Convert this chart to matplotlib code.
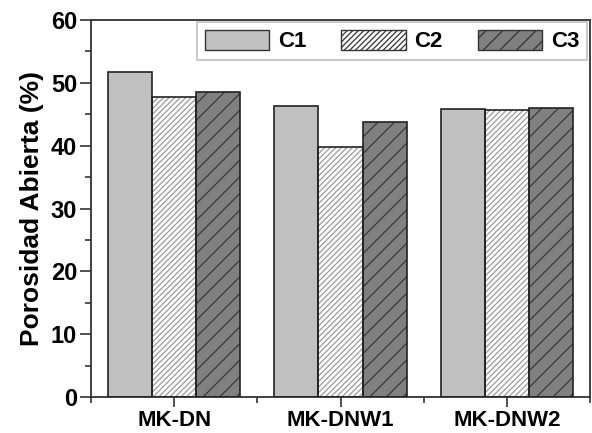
import matplotlib.pyplot as plt
import numpy as np
from matplotlib.ticker import MultipleLocator, FixedLocator

plt.rcParams['font.family'] = ['Liberation Sans', 'DejaVu Sans']
plt.rcParams['font.weight'] = 'bold'
plt.rcParams['hatch.linewidth'] = 0.9

groups = ['MK-DN', 'MK-DNW1', 'MK-DNW2']
series = ['C1', 'C2', 'C3']
c1 = [51.8, 46.3, 45.9]
c2 = [47.7, 39.8, 45.6]
c3 = [48.6, 43.8, 46.0]

fig = plt.figure(figsize=(5.92, 4.33), dpi=100)
ax = fig.add_axes([0.1537, 0.0831, 0.843, 0.8707])

x = np.arange(len(groups))
w = 0.265
styles = [
    dict(fc='#c0c0c0', hatch=None, hc='#c0c0c0'),
    dict(fc='white', hatch='//////', hc='#9a9a9a'),
    dict(fc='#808080', hatch='//', hc='#3a3a3a'),
]
handles = []
for i, (vals, st) in enumerate(zip([c1, c2, c3], styles)):
    pos = x + (i - 1) * w
    # fill + hatch (hatch colour comes from edgecolor)
    ax.bar(pos, vals, w, color=st['fc'], edgecolor=st['hc'], hatch=st['hatch'], linewidth=0, zorder=2)
    # outline
    ax.bar(pos, vals, w, fill=False, edgecolor='#222222', linewidth=1.2, zorder=3)
    handles.append(plt.Rectangle((0, 0), 1, 1, facecolor=st['fc'], edgecolor='#333333',
                                 hatch=st['hatch'], linewidth=1.0))

ax.set_xlim(-0.5, 2.5)
ax.set_ylim(0, 60)
ax.set_xticks(x)
ax.set_xticklabels(groups, fontsize=16, fontweight='bold')
ax.xaxis.set_minor_locator(FixedLocator([-0.5, 0.5, 1.5, 2.5]))
ax.yaxis.set_major_locator(MultipleLocator(10))
ax.yaxis.set_minor_locator(MultipleLocator(5))
ax.tick_params(axis='y', labelsize=17, length=8, width=1.2, direction='out', color='#333333', pad=2)
ax.tick_params(axis='x', length=7, width=1.2, direction='out', color='#333333', pad=2)
ax.tick_params(which='minor', length=4, width=1.2, direction='out', color='#333333')
for lab in ax.get_yticklabels():
    lab.set_fontweight('bold')
ax.set_ylabel('Porosidad Abierta (%)', fontsize=19, fontweight='bold', labelpad=5)
for s in ax.spines.values():
    s.set_linewidth(1.3)
    s.set_color('#333333')

leg = ax.legend(handles, series, ncol=3, loc='upper right',
                bbox_to_anchor=(0.212, 0.889, 0.782, 0.106), mode='expand',
                fontsize=16, frameon=True, fancybox=False, edgecolor='#b0b0b0',
                handlelength=2.9, handleheight=1.0, handletextpad=0.4,
                borderpad=0.35, columnspacing=1.2, borderaxespad=0)
leg.get_frame().set_linewidth(1.2)
for t in leg.get_texts():
    t.set_fontweight('bold')

fig.savefig('out.png', dpi=100)
